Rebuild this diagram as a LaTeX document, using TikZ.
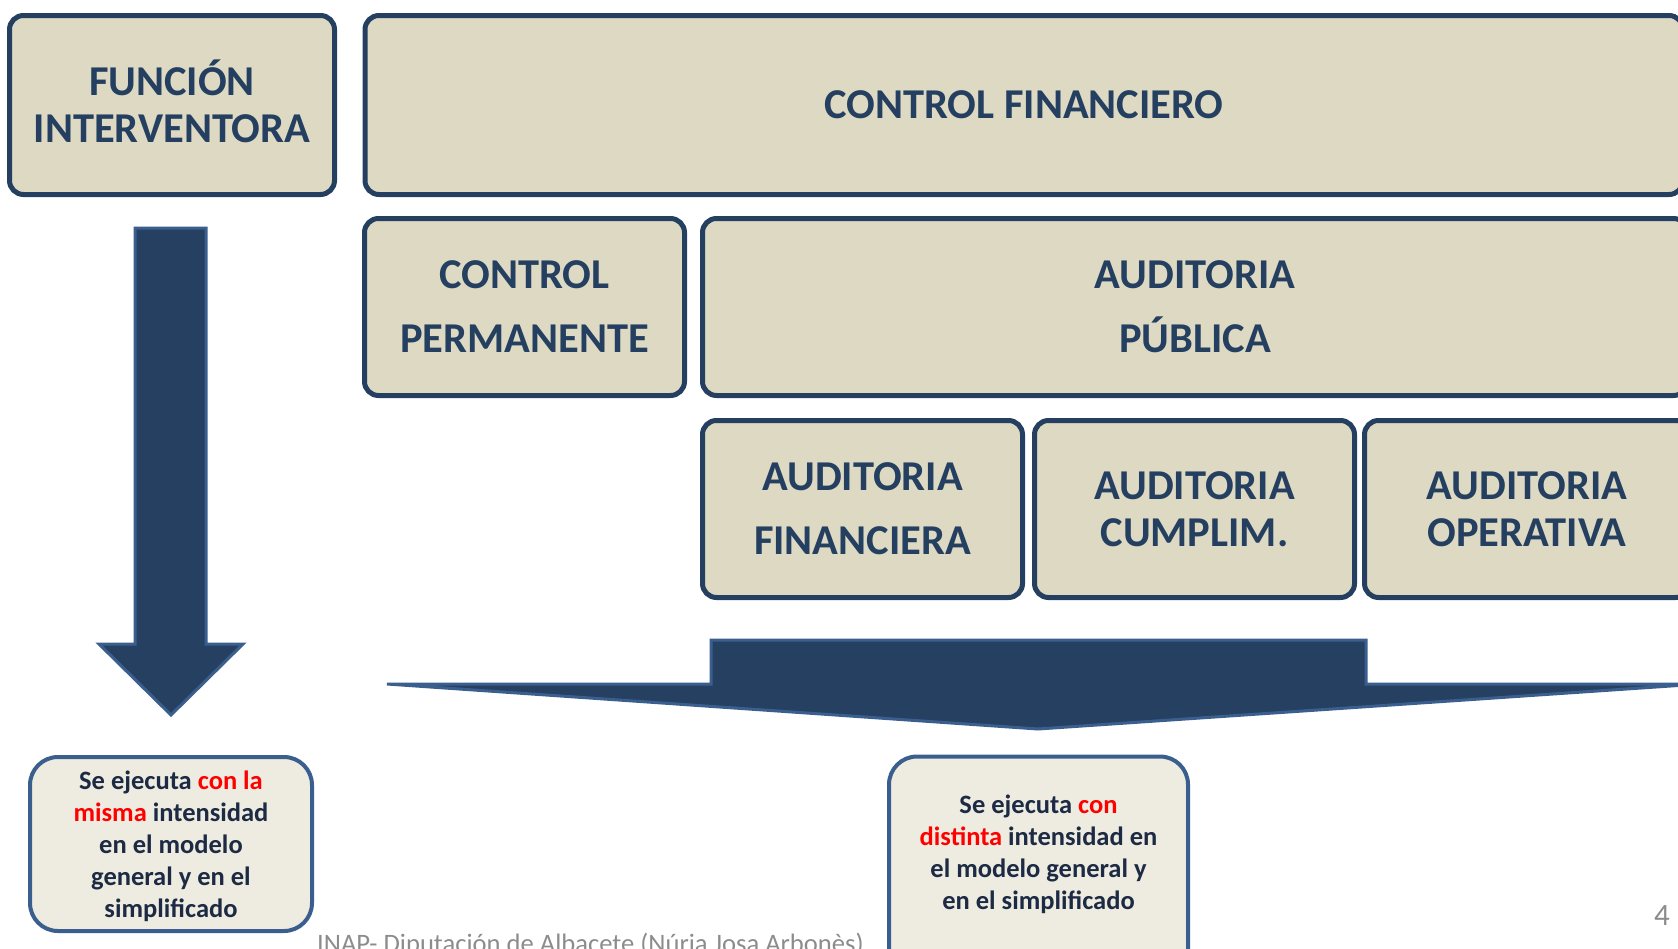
\documentclass[tikz,border=0pt]{standalone}
\usepackage{fontspec}
\setmainfont{Carlito}
\definecolor{boxfill}{HTML}{DDD9C3}
\definecolor{boxline}{HTML}{243F60}
\definecolor{titlecol}{HTML}{243F60}
\definecolor{arrowfill}{HTML}{264062}
\definecolor{arrowline}{HTML}{3A5F8E}
\definecolor{notefill}{HTML}{EEECE1}
\definecolor{notetext}{HTML}{1C2A44}
\definecolor{hl}{HTML}{FF0000}
\definecolor{footgray}{HTML}{8C8C8C}
\newcommand{\hlt}[1]{\textcolor{hl}{#1}}
\begin{document}
\begin{tikzpicture}[x=1pt,y=-1pt,
  topbox/.style={draw=boxline, line width=5pt, fill=boxfill, rounded corners=14pt,
    inner sep=0pt, align=center, text=titlecol},
  tightlines/.style={font=\fontsize{42.5}{47}\selectfont\bfseries},
  widelines/.style={font=\fontsize{42.5}{64}\selectfont\bfseries},
  notebox/.style={draw=arrowline, line width=4pt, fill=notefill, rounded corners=28pt, inner sep=0pt},
  notetxt/.style={align=center, text=notetext, inner sep=0pt, font=\fontsize{26.5}{32}\selectfont\bfseries},
  blockarrow/.style={fill=arrowfill, draw=arrowline, line width=3pt, line join=miter}
]
\useasboundingbox (0,0) rectangle (1678,948);

% top row
\node[topbox, tightlines, minimum width=325pt, minimum height=179pt] (fi) at (172,105) {};
\node[tightlines, text=titlecol, align=center, inner sep=0pt] (fit) at (172,101) {FUNCIÓN\\INTERVENTORA};
\node[topbox, tightlines, minimum width=1318pt, minimum height=179pt] (cf) at (1024,105) {CONTROL FINANCIERO};

% second row
\node[topbox, widelines, minimum width=320pt, minimum height=177pt] (cp) at (524.5,307) {CONTROL\\PERMANENTE};
\node[topbox, widelines, minimum width=985pt, minimum height=177pt] (ap) at (1195,307) {AUDITORIA\\PÚBLICA};

% third row
\node[topbox, widelines, minimum width=320pt, minimum height=177pt] (af) at (862.5,509) {AUDITORIA\\FINANCIERA};
\node[topbox, tightlines, minimum width=320pt, minimum height=177pt] (ac) at (1194.5,509) {AUDITORIA\\CUMPLIM.};
\node[topbox, tightlines, minimum width=325pt, minimum height=177pt] (ao) at (1527,509) {AUDITORIA\\OPERATIVA};

% left block arrow
\draw[blockarrow] (135,228) -- (206,228) -- (206,644) -- (243,644) -- (171,715)
  -- (99,644) -- (135,644) -- cycle;

% big block arrow
\draw[blockarrow] (711,640) -- (1366,640) -- (1366,684) -- (1700,684) -- (1038,729)
  -- (387,684) -- (711,684) -- cycle;

% bottom notes
\node[notebox, minimum width=282pt, minimum height=174pt] (n1) at (171,844) {};
\node[notetxt] (t1) at (171,846) {Se ejecuta \hlt{con la}\\\hlt{misma} intensidad\\en el modelo\\general y en el\\simplificado};

\node[notebox, minimum width=299pt, minimum height=225pt] (n2) at (1038.5,869) {};
\node[notetxt] (t2) at (1038.5,854) {Se ejecuta \hlt{con}\\\hlt{distinta} intensidad en\\el modelo general y\\en el simplificado};

% footer
\node[anchor=base west, inner sep=0pt, text=footgray, font=\fontsize{26.6}{30}\selectfont] (foot) at (317,952) {INAP- Diputación de Albacete (Núria Josa Arbonès)};
\node[anchor=base, inner sep=0pt, text=footgray, font=\fontsize{31}{34}\selectfont] (pg) at (1662,925) {4};
\end{tikzpicture}
\end{document}
